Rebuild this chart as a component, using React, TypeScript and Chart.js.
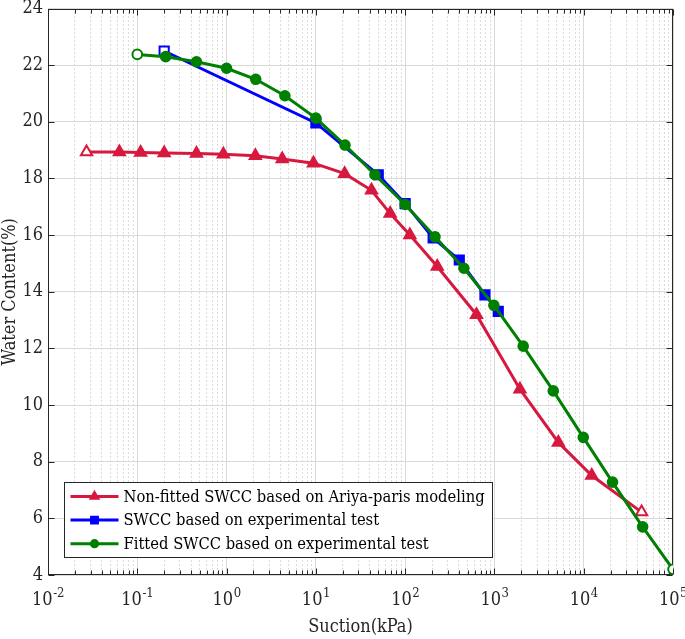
import React, { useEffect, useRef } from 'react';
import { Chart, registerables } from 'chart.js';
import { drawPoint } from 'chart.js/helpers';

Chart.register(...registerables);

const FONT = "'DejaVu Serif Condensed', 'DejaVu Serif', serif";

// Suction (kPa) and water content (%)
const redLabel = 'Non-fitted SWCC based on Ariya-paris modeling';
const redX = [0.027, 0.063, 0.109, 0.2, 0.46, 0.92, 2.1, 4.2, 9.4, 21, 42, 68, 113, 229, 630, 1930, 5200, 12300, 44500];
const redY = [18.93, 18.93, 18.92, 18.9, 18.88, 18.85, 18.8, 18.69, 18.54, 18.17, 17.58, 16.76, 16.0, 14.89, 13.19, 10.56, 8.68, 7.51, 6.22];

const blueLabel = 'SWCC based on experimental test';
const blueX = [0.2, 10, 50, 100, 206, 404, 783, 1104];
const blueY = [22.5, 19.96, 18.13, 17.11, 15.9, 15.12, 13.89, 13.31];

const greenLabel = 'Fitted SWCC based on experimental test';
const greenX = [0.1, 0.208, 0.46, 1.0, 2.12, 4.5, 10, 21.2, 45.9, 100, 216, 455, 986, 2100, 4560, 9890, 21000, 45700, 100000];
const greenY = [22.38, 22.3, 22.12, 21.89, 21.5, 20.92, 20.13, 19.18, 18.13, 17.08, 15.94, 14.83, 13.52, 12.08, 10.5, 8.86, 7.28, 5.7, 4.2];

const xMin = 0.01;
const xMax = 100000;
const yMin = 4;
const yMax = 24;
const yStep = 2;
const xTitle = 'Suction(kPa)';
const yTitle = 'Water Content(%)';

const RED = '#d7193f';
const BLUE = '#0000ff';
const GREEN = '#008000';
const AXIS = '#262626';
const AXIS_SIZE = 18;
const LEGEND_SIZE = 16.4;

const isPow10 = (v: number) => Math.abs(Math.log10(v) - Math.round(Math.log10(v))) < 1e-9;

const toPts = (xs: number[], ys: number[]) => xs.map((x, i) => ({ x, y: ys[i] }));

const framePlugin = {
  id: 'frameTicks',
  beforeDatasetsDraw(chart: any) {
    const { ctx, chartArea, scales } = chart;
    const { left, right, top, bottom } = chartArea;
    ctx.save();
    ctx.strokeStyle = AXIS;
    ctx.lineWidth = 1;
    const L = Math.round(left) + 0.5, R = Math.round(right) - 0.5, T = Math.round(top) + 0.5, B = Math.round(bottom) - 0.5;
    ctx.beginPath();
    scales.x.ticks.forEach((t: any) => {
      const px = Math.round(scales.x.getPixelForValue(t.value)) + 0.5;
      const len = isPow10(t.value) ? 6 : 4;
      ctx.moveTo(px, B); ctx.lineTo(px, B - len);
      ctx.moveTo(px, T); ctx.lineTo(px, T + len);
    });
    scales.y.ticks.forEach((t: any) => {
      const py = Math.round(scales.y.getPixelForValue(t.value)) + 0.5;
      ctx.moveTo(L, py); ctx.lineTo(L + 6, py);
      ctx.moveTo(R, py); ctx.lineTo(R - 6, py);
    });
    ctx.stroke();
    ctx.strokeRect(L, T, R - L, B - T);
    ctx.restore();
  },
  afterDraw(chart: any) {
    // x tick labels as 10 with a raised exponent, placed at the log scale's major ticks
    const { ctx, chartArea, scales } = chart;
    ctx.save();
    ctx.fillStyle = AXIS;
    ctx.textBaseline = 'alphabetic';
    ctx.textAlign = 'left';
    const baseY = chartArea.bottom + 30;
    scales.x.ticks.forEach((t: any) => {
      if (!isPow10(t.value)) return;
      const e = String(Math.round(Math.log10(t.value)));
      ctx.font = `${AXIS_SIZE}px ${FONT}`;
      const wb = ctx.measureText('10').width;
      ctx.font = `${AXIS_SIZE * 0.72}px ${FONT}`;
      const we = ctx.measureText(e).width;
      const px = scales.x.getPixelForValue(t.value);
      const sx = px - (wb + we) / 2;
      ctx.font = `${AXIS_SIZE}px ${FONT}`;
      ctx.fillText('10', sx, baseY);
      ctx.font = `${AXIS_SIZE * 0.72}px ${FONT}`;
      ctx.fillText(e, sx + wb + 0.5, baseY - 8);
    });
    ctx.restore();
  },
};

const legendPlugin = {
  id: 'boxLegend',
  afterDraw(chart: any) {
    const { ctx, chartArea } = chart;
    const ds = chart.data.datasets;
    ctx.save();
    ctx.font = `${LEGEND_SIZE}px ${FONT}`;
    const maxW = Math.max(...ds.map((d: any) => ctx.measureText(d.label).width));
    const x0 = Math.round(chartArea.left) + 16.5;
    const h = 75;
    const top = Math.round(chartArea.bottom) - 18 - h + 0.5;
    const w = Math.round(59 + maxW + 8);
    ctx.fillStyle = '#ffffff';
    ctx.fillRect(x0, top, w, h);
    ctx.strokeStyle = AXIS;
    ctx.lineWidth = 1;
    ctx.strokeRect(x0, top, w, h);
    ds.forEach((d: any, i: number) => {
      const y = top + 14 + i * 23.6;
      ctx.strokeStyle = d.borderColor;
      ctx.lineWidth = 3;
      ctx.beginPath();
      ctx.moveTo(x0 + 6, y);
      ctx.lineTo(x0 + 54, y);
      ctx.stroke();
      ctx.fillStyle = d.borderColor;
      ctx.lineWidth = 1.5;
      drawPoint(ctx, { pointStyle: d.pointStyle, radius: d.pointRadius * 0.8, rotation: 0, borderWidth: 1.5 }, x0 + 30, y);
      ctx.fillStyle = '#000000';
      ctx.textBaseline = 'middle';
      ctx.textAlign = 'left';
      ctx.fillText(d.label, x0 + 59, y + 1);
    });
    ctx.restore();
  },
};

function hollowEnds(color: string, n: number, first: boolean, last: boolean) {
  return (c: any) => ((first && c.dataIndex === 0) || (last && c.dataIndex === n - 1) ? '#ffffff' : color);
}

export default function App() {
  const ref = useRef<HTMLCanvasElement | null>(null);
  useEffect(() => {
    document.body.style.margin = '0';
    const chart = new Chart(ref.current as HTMLCanvasElement, {
      type: 'line',
      data: {
        datasets: [
          {
            label: redLabel, data: toPts(redX, redY), borderColor: RED, borderWidth: 3,
            pointStyle: 'triangle', pointRadius: 6.5, pointBorderWidth: 2, pointBorderColor: RED,
            pointBackgroundColor: hollowEnds(RED, redX.length, true, true), order: 2,
          } as any,
          {
            label: blueLabel, data: toPts(blueX, blueY), borderColor: BLUE, borderWidth: 3,
            pointStyle: 'rect', pointRadius: 6.5, pointBorderWidth: 2, pointBorderColor: BLUE,
            pointBackgroundColor: hollowEnds(BLUE, blueX.length, true, false), order: 1,
          } as any,
          {
            label: greenLabel, data: toPts(greenX, greenY), borderColor: GREEN, borderWidth: 3,
            pointStyle: 'circle', pointRadius: 4.8, pointBorderWidth: 2, pointBorderColor: GREEN,
            pointBackgroundColor: hollowEnds(GREEN, greenX.length, true, true), order: 0,
          } as any,
        ],
      },
      options: {
        responsive: false,
        animation: false,
        layout: { padding: { top: 6, right: 12, left: 0, bottom: 0 } },
        plugins: { legend: { display: false }, tooltip: { enabled: false } },
        scales: {
          x: {
            type: 'logarithmic',
            min: xMin,
            max: xMax,
            afterBuildTicks: (scale: any) => {
              const ticks: any[] = [];
              for (let e = Math.round(Math.log10(xMin)); e <= Math.round(Math.log10(xMax)); e++) {
                for (let m = 1; m <= 9; m++) {
                  const v = m * Math.pow(10, e);
                  if (v > xMax * 1.0000001) break;
                  ticks.push({ value: v, major: m === 1 });
                }
              }
              scale.ticks = ticks;
            },
            afterFit: (scale: any) => {
              scale.height = 64;
              scale.paddingLeft = 0;
              scale.paddingRight = 0;
            },
            ticks: {
              autoSkip: false,
              maxRotation: 0,
              padding: 10,
              color: AXIS,
              font: { family: FONT, size: AXIS_SIZE },
              callback: () => '',
            },
            grid: {
              drawTicks: false,
              color: (c: any) => (c.tick && isPow10(c.tick.value) ? '#d9d9d9' : 'rgba(0,0,0,0.28)'),
              lineWidth: 1,
            },
            border: {
              display: false,
              dash: (c: any) => (c.tick && isPow10(c.tick.value) ? [] : [1, 3]),
            },
            title: { display: true, text: xTitle, color: AXIS, font: { family: FONT, size: AXIS_SIZE }, padding: { top: 0, bottom: 1 } },
          },
          y: {
            type: 'linear',
            min: yMin,
            max: yMax,
            afterFit: (scale: any) => {
              scale.width = 48;
              scale.paddingTop = 0;
              scale.paddingBottom = 0;
            },
            ticks: { stepSize: yStep, padding: 5, color: AXIS, font: { family: FONT, size: AXIS_SIZE } },
            grid: { drawTicks: false, color: '#d9d9d9', lineWidth: 1 },
            border: { display: false },
            title: { display: true, text: yTitle, color: AXIS, font: { family: FONT, size: AXIS_SIZE }, padding: { top: 0, bottom: 0 } },
          },
        },
      } as any,
      plugins: [framePlugin, legendPlugin],
    });
    return () => chart.destroy();
  }, []);
  return (
    <div style={{ position: 'absolute', left: 0, top: 0, width: 685, height: 639 }}>
      <canvas ref={ref} width={685} height={639} />
    </div>
  );
}
